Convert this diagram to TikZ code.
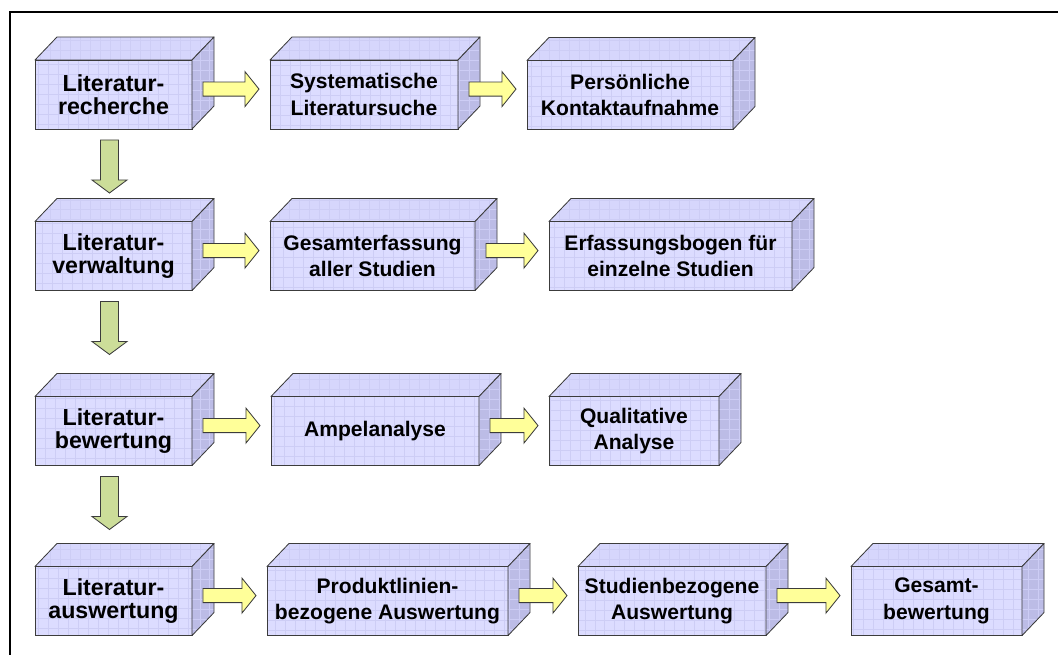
\documentclass[tikz,border=0pt]{standalone}
\usepackage{fontspec}
\setmainfont{Liberation Sans}
\usepackage{xcolor}
\usetikzlibrary{calc}

\definecolor{boxfront}{RGB}{220,220,255}
\definecolor{boxtop}{RGB}{214,214,252}
\definecolor{boxside}{RGB}{188,188,230}
\definecolor{gridcol}{RGB}{205,205,245}
\definecolor{edgecol}{RGB}{60,60,60}
\definecolor{arryel}{RGB}{255,255,153}
\definecolor{arrgrn}{RGB}{204,221,153}

\tikzset{
  gridfill/.style={path picture={\draw[gridcol, line width=0.25pt]
      (path picture bounding box.south west) grid[step=7.1pt]
      (path picture bounding box.north east);}},
  face/.style={draw=edgecol, line width=0.6pt, line join=round, gridfill},
  rarr/.style={draw=edgecol, fill=arryel, line width=0.6pt, line join=miter},
  darr/.style={draw=edgecol, fill=arrgrn, line width=0.6pt, line join=miter}
}

\newcommand\rightarr[2]{%
  \draw[rarr] let \p1=(#1.east), \p2=(#2.west) in
    (\x1+7.8pt,\y1+8.85pt) -- (\x2-17.8pt,\y1+8.85pt) -- (\x2-17.8pt,\y1+16.3pt)
    -- (\x2-7.8pt,\y1+3.85pt) -- (\x2-17.8pt,\y1-8.6pt) -- (\x2-17.8pt,\y1-1.15pt)
    -- (\x1+7.8pt,\y1-1.15pt) -- cycle;}
\newcommand\downarr[2]{%
  \draw[darr] let \p1=(#1.south), \p2=(#2.north) in
    (\x1-9.25pt,\y1-7.8pt) -- (\x1+3.55pt,\y1-7.8pt) -- (\x1+3.55pt,\y1-36.25pt)
    -- (\x1+9.6pt,\y1-36.25pt) -- (\x1-2.85pt,\y1-45.5pt) -- (\x1-15.3pt,\y1-36.25pt)
    -- (\x1-9.25pt,\y1-36.25pt) -- cycle;}

\begin{document}
\begin{tikzpicture}[x=0.025cm, y=-0.025cm,
    every node/.style={rectangle, draw=edgecol, line width=0.6pt, fill=boxfront,
      gridfill, inner sep=0pt, outer sep=0pt, minimum height=1.725cm, align=center,
      font=\fontsize{15}{19}\selectfont\bfseries},
    lit/.style={minimum width=3.925cm, font=\fontsize{16.5}{16}\selectfont\bfseries}]
    \useasboundingbox (0,0) rectangle (1058,654);
    \draw[line width=1.6pt] (1060,12) -- (10,12) -- (10,656);

    \node[lit] (A) at (113.5,94.5) {Literatur-\\recherche};
    \node[minimum width=4.7cm] (B) at (364,94.5) {Systematische\\Literatursuche};
    \node[minimum width=5.15cm] (C) at (630,95) {Persönliche\\Kontaktaufnahme};

    \node[lit] (D) at (113.5,256) {Literatur-\\verwaltung};
    \node[minimum width=5.125cm] (E) at (372.5,256) {Gesamterfassung\\aller Studien};
    \node[minimum width=6.075cm] (F) at (670.5,256) {Erfassungsbogen für\\einzelne Studien};

    \node[lit] (G) at (113.5,431) {Literatur-\\bewertung};
    \node[minimum width=5.2cm] (H) at (375,431) {Ampelanalyse};
    \node[minimum width=4.25cm] (I) at (634,431) {Qualitative\\Analyse};

    \node[lit] (J) at (113.5,601) {Literatur-\\auswertung};
    \node[minimum width=6.025cm] (K) at (387.5,601) {Produktlinien-\\bezogene Auswertung};
    \node[minimum width=4.7cm] (L) at (672,601) {Studienbezogene\\Auswertung};
    \node[minimum width=4.275cm] (M) at (936.5,601) {Gesamt-\\bewertung};

    \foreach \n in {A,B,C,D,E,F,G,H,I,J,K,L,M} {
        \path[face, fill=boxtop] (\n.north west) -- ++(22,-23)
            -- ([shift={(22,-23)}]\n.north east) -- (\n.north east) -- cycle;
        \path[face, fill=boxside] (\n.north east) -- ++(22,-23)
            -- ([shift={(22,-23)}]\n.south east) -- (\n.south east) -- cycle;
    }

    \rightarr{A}{B}
    \rightarr{B}{C}
    \rightarr{D}{E}
    \rightarr{E}{F}
    \rightarr{G}{H}
    \rightarr{H}{I}
    \rightarr{J}{K}
    \rightarr{K}{L}
    \rightarr{L}{M}

    \downarr{A}{D}
    \downarr{D}{G}
    \downarr{G}{J}
\end{tikzpicture}
\end{document}
